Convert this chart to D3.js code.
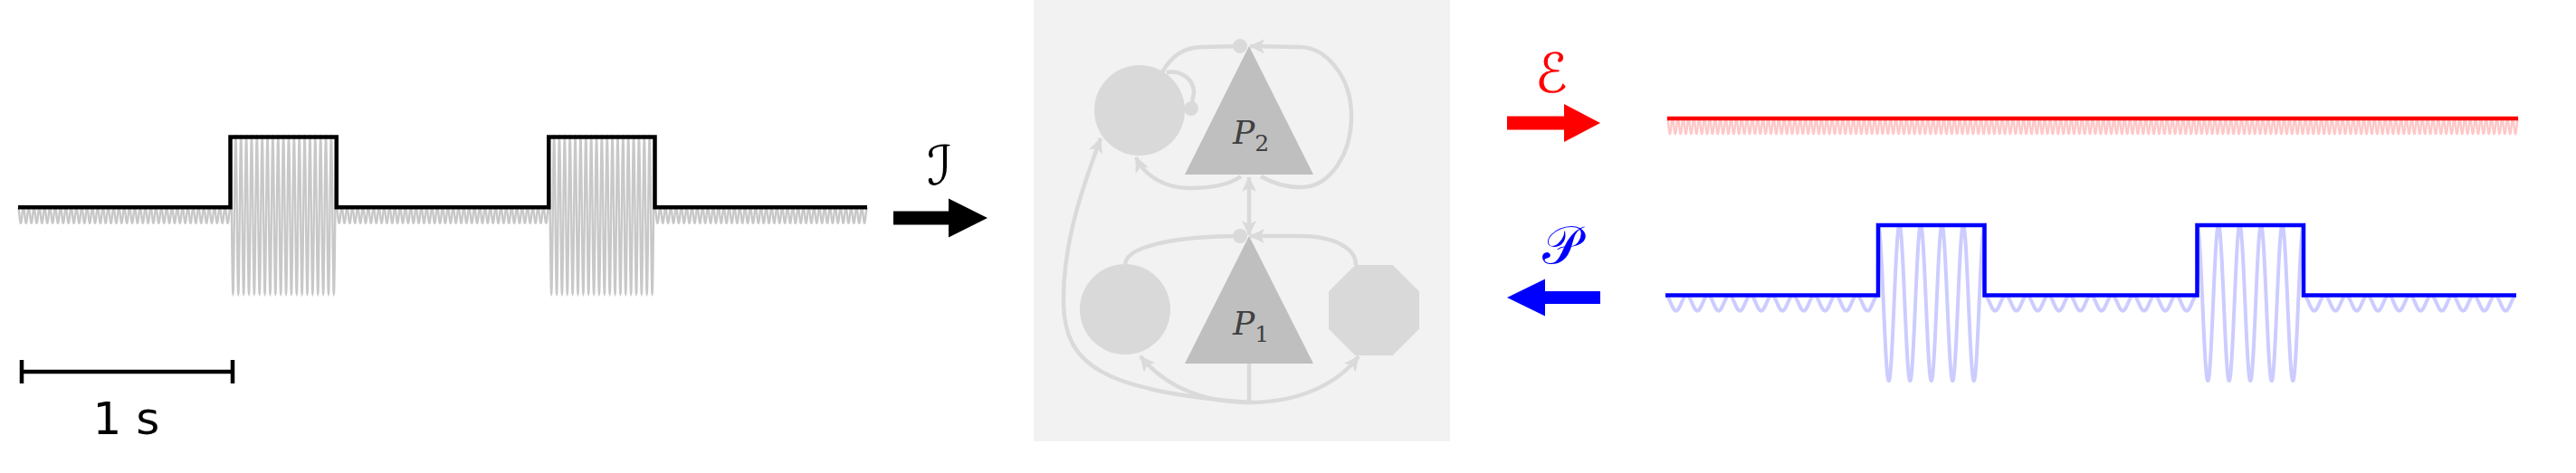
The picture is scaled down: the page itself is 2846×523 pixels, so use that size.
<!DOCTYPE html>
<html>
<head>
<meta charset="utf-8">
<script src="https://cdn.jsdelivr.net/npm/d3@7"></script>
<style>
  html, body { margin: 0; padding: 0; background: #ffffff; }
  svg { display: block; }
</style>
</head>
<body>
<script>
// ---------------- data ----------------
const timeDomain = [0, 4];            // seconds shown in each trace
const pulseStarts = [1.0, 2.5];       // input pulse onsets (s)
const pulseEnds = [1.5, 3.0];         // input pulse offsets (s)
const baseLevel = 0.1;                // envelope level outside pulses
const pulseLevel = 1.0;               // envelope level inside pulses
const errorLevel = 0.1;               // constant error envelope
const inputFreq = 40;                 // Hz, carrier of input
const errorFreq = 40;                 // Hz, carrier of error
const outputFreq = 10;                // Hz, carrier of prediction
const scaleBarSeconds = [0, 1];
const scaleBarLabel = "1 s";
const signalLabels = ["ℐ", "ℰ", "𝒫"];
const nodeLabels = [{p: "P", sub: "2"}, {p: "P", sub: "1"}];

// ---------------- helpers ----------------
function envelopePoints(starts, ends, lo, hi, dom) {
  const pts = [[dom[0], lo]];
  starts.forEach((s, i) => { pts.push([s, lo], [s, hi], [ends[i], hi], [ends[i], lo]); });
  pts.push([dom[1], lo]);
  return pts;
}
function levelAt(t, starts, ends, lo, hi) {
  for (let i = 0; i < starts.length; i++) if (t >= starts[i] && t <= ends[i]) return hi;
  return lo;
}
function carrierPoints(freq, envFn, dom) {
  const n = 16000, pts = [];
  for (let i = 0; i <= n; i++) {
    const t = dom[0] + (dom[1] - dom[0]) * i / n;
    pts.push([t, envFn(t) * Math.cos(2 * Math.PI * freq * t)]);
  }
  return pts;
}

const W = 2846, H = 523;
const svg = d3.select("body").append("svg").attr("width", W).attr("height", H);

const defs = svg.append("defs");
defs.append("marker").attr("id", "stealth")
  .attr("viewBox", "-2 -10 22 20").attr("refX", 16).attr("refY", 0)
  .attr("markerWidth", 22).attr("markerHeight", 20).attr("markerUnits", "userSpaceOnUse")
  .attr("orient", "auto-start-reverse")
  .append("path").attr("d", "M0,-8 L17,0 L0,8 L4,0 Z").attr("fill", "#dadada");
defs.append("marker").attr("id", "dot")
  .attr("viewBox", "-10 -10 20 20").attr("refX", 0).attr("refY", 0)
  .attr("markerWidth", 20).attr("markerHeight", 20).attr("markerUnits", "userSpaceOnUse")
  .attr("orient", "auto")
  .append("circle").attr("r", 8).attr("fill", "#dadada");

// ---------------- trace drawing ----------------
function drawTrace(xr, y0, amp, lineColor, lightColor, lightWidth, freq, envFn, envPts) {
  const x = d3.scaleLinear().domain(timeDomain).range(xr);
  const y = d3.scaleLinear().domain([-1, 1]).range([y0 + amp, y0 - amp]);
  const line = d3.line().x(d => x(d[0])).y(d => y(d[1]));
  svg.append("path").datum(carrierPoints(freq, envFn, timeDomain))
    .attr("d", line).attr("fill", "none").attr("stroke", lightColor).attr("stroke-width", lightWidth);
  svg.append("path").datum(envPts)
    .attr("d", line).attr("fill", "none").attr("stroke", lineColor)
    .attr("stroke-width", 4.5).attr("stroke-linejoin", "miter");
  return x;
}

const inEnv = t => levelAt(t, pulseStarts, pulseEnds, baseLevel, pulseLevel);
const inPts = envelopePoints(pulseStarts, pulseEnds, baseLevel, pulseLevel, timeDomain);

// input (left)
drawTrace([20, 958], 238, 86.5, "#000000", "#c8c8c8", 2.4, inputFreq, inEnv, inPts);
// error (right top)
drawTrace([1842, 2782], 139.5, 86, "#ff0000", "#ffc8c8", 2.4, errorFreq, () => errorLevel,
  envelopePoints([], [], errorLevel, errorLevel, timeDomain));
// prediction (right bottom)
drawTrace([1840, 2780], 335, 86, "#0000ff", "#ccccff", 4, outputFreq, inEnv, inPts);

// scale bar
const sb = d3.scaleLinear().domain(scaleBarSeconds).range([24, 257]);
const sbG = svg.append("g").attr("stroke", "#000").attr("stroke-width", 4.5);
sbG.append("line").attr("x1", sb(0)).attr("x2", sb(1)).attr("y1", 411).attr("y2", 411);
sbG.append("line").attr("x1", sb(0)).attr("x2", sb(0)).attr("y1", 398).attr("y2", 424);
sbG.append("line").attr("x1", sb(1)).attr("x2", sb(1)).attr("y1", 398).attr("y2", 424);
svg.append("text").attr("x", (sb(0) + sb(1)) / 2 - 1).attr("y", 480)
  .attr("text-anchor", "middle").attr("font-family", "DejaVu Sans")
  .attr("font-size", 50).attr("fill", "#000").text(scaleBarLabel);

// ---------------- arrows and symbols ----------------
function rightArrow(x0, xh, xt, yc, shaftH, headH, color) {
  svg.append("path").attr("fill", color).attr("d",
    `M${x0},${yc - shaftH / 2} L${xh},${yc - shaftH / 2} L${xh},${yc - headH / 2} L${xt},${yc} ` +
    `L${xh},${yc + headH / 2} L${xh},${yc + shaftH / 2} L${x0},${yc + shaftH / 2} Z`);
}
rightArrow(987, 1048, 1091, 241, 15, 43, "#000000");
rightArrow(1665, 1728, 1768, 136, 15, 42, "#ff0000");
rightArrow(1768, 1707, 1665, 329, 14, 41, "#0000ff");

svg.append("text").attr("x", 1038).attr("y", 204).attr("text-anchor", "middle")
  .attr("font-family", "'DejaVu Sans'").attr("font-size", 60).attr("fill", "#000").text(signalLabels[0]);
svg.append("text").attr("x", 1714).attr("y", 102).attr("text-anchor", "middle")
  .attr("font-family", "'DejaVu Sans'").attr("font-size", 60).attr("fill", "#ff0000").text(signalLabels[1]);
svg.append("text").attr("x", 1725).attr("y", 291).attr("text-anchor", "middle")
  .attr("font-family", "'DejaVu Serif'").attr("font-size", 58).attr("fill", "#0000ff")
  .text(signalLabels[2]);

// ---------------- network diagram ----------------
svg.append("rect").attr("x", 1142).attr("y", 0).attr("width", 460).attr("height", 488).attr("fill", "#f2f2f2");

const edgeG = svg.append("g").attr("fill", "none").attr("stroke", "#dadada").attr("stroke-width", 4.5);
const edges = [
  {d: "M1284,80 C1295,60 1310,52 1328,52 L1370,51", end: "dot"},
  {d: "M1289,80 C1305,77 1319,88 1319,102 L1316,120", end: "dot"},
  {d: "M1393,195 C1405,202 1420,207 1437,207 C1470,207 1493,170 1493,128 C1493,85 1465,52 1436,52 L1381,51", end: "stealth"},
  {d: "M1371,195 C1360,203 1340,208 1314,208 C1290,208 1266,197 1255,174", end: "stealth"},
  {d: "M1380,196 L1380,260", end: "stealth", start: "stealth"},
  {d: "M1243,293 C1243,272 1300,261 1370,261", end: "dot"},
  {d: "M1498,293 C1498,275 1475,261 1436,261 L1381,261", end: "stealth"},
  {d: "M1380,402 L1380,445"},
  {d: "M1380,445 C1330,445 1288,428 1260,394", end: "stealth"},
  {d: "M1380,445 C1430,445 1475,428 1501,394", end: "stealth"},
  {d: "M1380,445 C1220,432 1176,405 1175,335 C1174,270 1195,210 1216,153", end: "stealth"}
];

const nodeG = svg.append("g");
nodeG.append("circle").attr("cx", 1259).attr("cy", 122).attr("r", 50).attr("fill", "#d9d9d9");
nodeG.append("circle").attr("cx", 1243).attr("cy", 342).attr("r", 50).attr("fill", "#d9d9d9");
const oct = d3.range(8).map(i => {
  const a = Math.PI / 8 + i * Math.PI / 4, R = 50 / Math.cos(Math.PI / 8);
  return [1518 + R * Math.cos(a), 343 + R * Math.sin(a)];
});
nodeG.append("polygon").attr("points", oct.map(p => p.join(",")).join(" ")).attr("fill", "#d9d9d9");

edges.forEach(e => {
  const p = edgeG.append("path").attr("d", e.d);
  if (e.end) p.attr("marker-end", `url(#${e.end})`);
  if (e.start) p.attr("marker-start", `url(#${e.start})`);
});

const triG = svg.append("g");
[[51, 193], [261, 402]].forEach(([ya, yb]) => {
  triG.append("polygon").attr("points", `1380,${ya} 1309,${yb} 1451,${yb}`).attr("fill", "#bfbfbf");
});
[[159, nodeLabels[0]], [370, nodeLabels[1]]].forEach(([yb, lab]) => {
  const t = svg.append("text").attr("x", 1362).attr("y", yb)
    .attr("font-family", "'DejaVu Serif', serif").attr("fill", "#404040").attr("font-size", 36);
  t.append("tspan").attr("font-style", "italic").text(lab.p);
  t.append("tspan").attr("font-size", 25).attr("dy", 8).text(lab.sub);
});
</script>
</body>
</html>
